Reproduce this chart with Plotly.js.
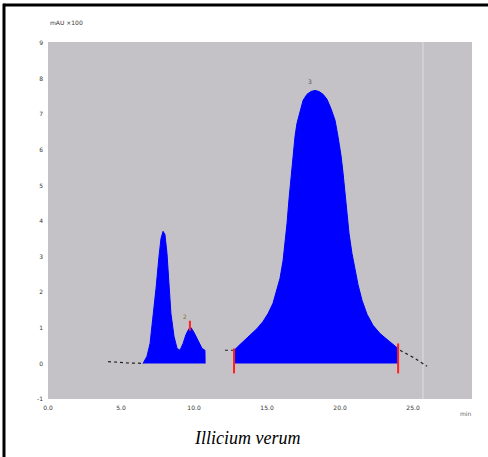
<!DOCTYPE html>
<html>
<head>
<meta charset="utf-8">
<script src="https://cdn.plot.ly/plotly-3.0.1.min.js"></script>
<style>html,body{margin:0;padding:0;background:#fff;}#chart{width:488px;height:457px;}</style>
</head>
<body>
<div id="chart"></div>
<script>
// retention time (min) and detector signal (mAU)
var peakAX = [6.51,6.78,6.99,7.19,7.40,7.60,7.74,7.88,8.01,8.15,8.29,8.42,8.63,8.84,9.04,9.25,9.45,9.66,9.79,10.00,10.27,10.55,10.75,10.76];
var peakAY = [0,20,56,126,211,300,351,371,362,309,225,140,76,42,37,56,81,98,101,87,65,42,37,0];
var peakBX = [12.74,12.75,13.15,13.84,14.32,14.73,15.07,15.41,15.68,15.89,16.10,16.23,16.37,16.51,16.64,16.78,16.92,17.05,17.26,17.47,17.74,18.01,18.29,18.56,18.84,19.11,19.38,19.66,19.86,20.07,20.21,20.34,20.48,20.62,20.82,21.03,21.23,21.51,21.85,22.26,22.74,23.29,23.70,23.97,23.98];
var peakBY = [0,37,53,79,98,118,140,169,205,239,289,337,393,463,520,581,638,674,711,739,756,764,767,764,756,742,716,683,638,584,534,478,421,365,309,261,222,177,138,107,84,65,51,42,0];
var baseX1 = [4.11,4.6,5.1,5.6,6.1,6.44];
var baseY1 = [5,3,3,1,1,0];
var baseX2 = [12.12,12.67];
var baseY2 = [37,37];
var baseX3 = [24.11,24.6,25.1,25.5,25.96];
var baseY3 = [37,27,15,4,-8];
var markX1 = [12.74,12.74];
var markY1 = [-28,42];
var markX2 = [23.98,23.98];
var markY2 = [56,-28];
var markX3 = [9.72,9.72];
var markY3 = [92,120];
var xTicks = [0,5,10,15,20,25];
var xTickText = ['0.0','5.0','10.0','15.0','20.0','25.0'];
var yTicks = [-100,0,100,200,300,400,500,600,700,800,900];
var yTickText = ['-1','0','1','2','3','4','5','6','7','8','9'];

var fillTrace = function(x,y){return {x:x,y:y,type:'scatter',mode:'lines',fill:'tozeroy',fillcolor:'#0000ff',line:{color:'#0000ff',width:1},hoverinfo:'skip'};};
var dashTrace = function(x,y){return {x:x,y:y,type:'scatter',mode:'lines',line:{color:'#222',width:1.2,dash:'dot'},hoverinfo:'skip'};};
var redTrace = function(x,y){return {x:x,y:y,type:'scatter',mode:'lines',line:{color:'#ff2020',width:2},hoverinfo:'skip'};};

var data = [
  fillTrace(peakAX,peakAY),
  fillTrace(peakBX,peakBY),
  dashTrace(baseX1,baseY1),
  dashTrace(baseX2,baseY2),
  dashTrace(baseX3,baseY3),
  redTrace(markX1,markY1),
  redTrace(markX2,markY2),
  redTrace(markX3,markY3)
];

var layout = {
  width:488, height:457,
  margin:{l:48,r:16,t:42,b:58},
  paper_bgcolor:'#ffffff',
  plot_bgcolor:'#c4c2c6',
  showlegend:false,
  font:{family:'DejaVu Sans',size:6,color:'#333'},
  xaxis:{range:[0,29.04],tickvals:xTicks,ticktext:xTickText,showgrid:false,zeroline:false,showline:false,ticks:'',ticklabelstandoff:4,tickfont:{size:6,color:'#333'},fixedrange:true},
  yaxis:{range:[-100,903],tickvals:yTicks,ticktext:yTickText,showgrid:false,zeroline:false,showline:false,ticks:'',ticklabelstandoff:4,tickfont:{size:6,color:'#333'},fixedrange:true},
  shapes:[
    {type:'line',xref:'x',yref:'paper',x0:25.68,x1:25.68,y0:0,y1:1,line:{color:'#d2d0d4',width:2},layer:'below'},
    {type:'line',xref:'paper',yref:'paper',x0:-0.106,x1:1.04,y0:1.1036,y1:1.1036,line:{color:'#000',width:3}},
    {type:'line',xref:'paper',yref:'paper',x0:-0.1038,x1:-0.1038,y0:1.107,y1:-0.17,line:{color:'#000',width:3}}
  ],
  annotations:[
    {text:'<i>Illicium verum</i>',xref:'paper',yref:'paper',x:0.47,y:-0.108,xanchor:'center',yanchor:'middle',showarrow:false,font:{family:'Liberation Serif',size:18,color:'#000'}},
    {text:'mAU ×100',xref:'paper',yref:'paper',x:0.0,y:1.055,xanchor:'left',yanchor:'middle',showarrow:false,font:{size:6,color:'#333'}},
    {text:'min',xref:'paper',yref:'paper',x:0.985,y:-0.04,xanchor:'center',yanchor:'middle',showarrow:false,font:{size:6,color:'#666'}},
    {text:'3',xref:'paper',yref:'paper',x:0.618,y:0.89,xanchor:'center',yanchor:'middle',showarrow:false,font:{size:6,color:'#555'}},
    {text:'2',xref:'paper',yref:'paper',x:0.323,y:0.23,xanchor:'center',yanchor:'middle',showarrow:false,font:{size:6,color:'#8a6a20'}}
  ]
};
Plotly.newPlot('chart',data,layout,{displayModeBar:false,staticPlot:true});
</script>
</body>
</html>
